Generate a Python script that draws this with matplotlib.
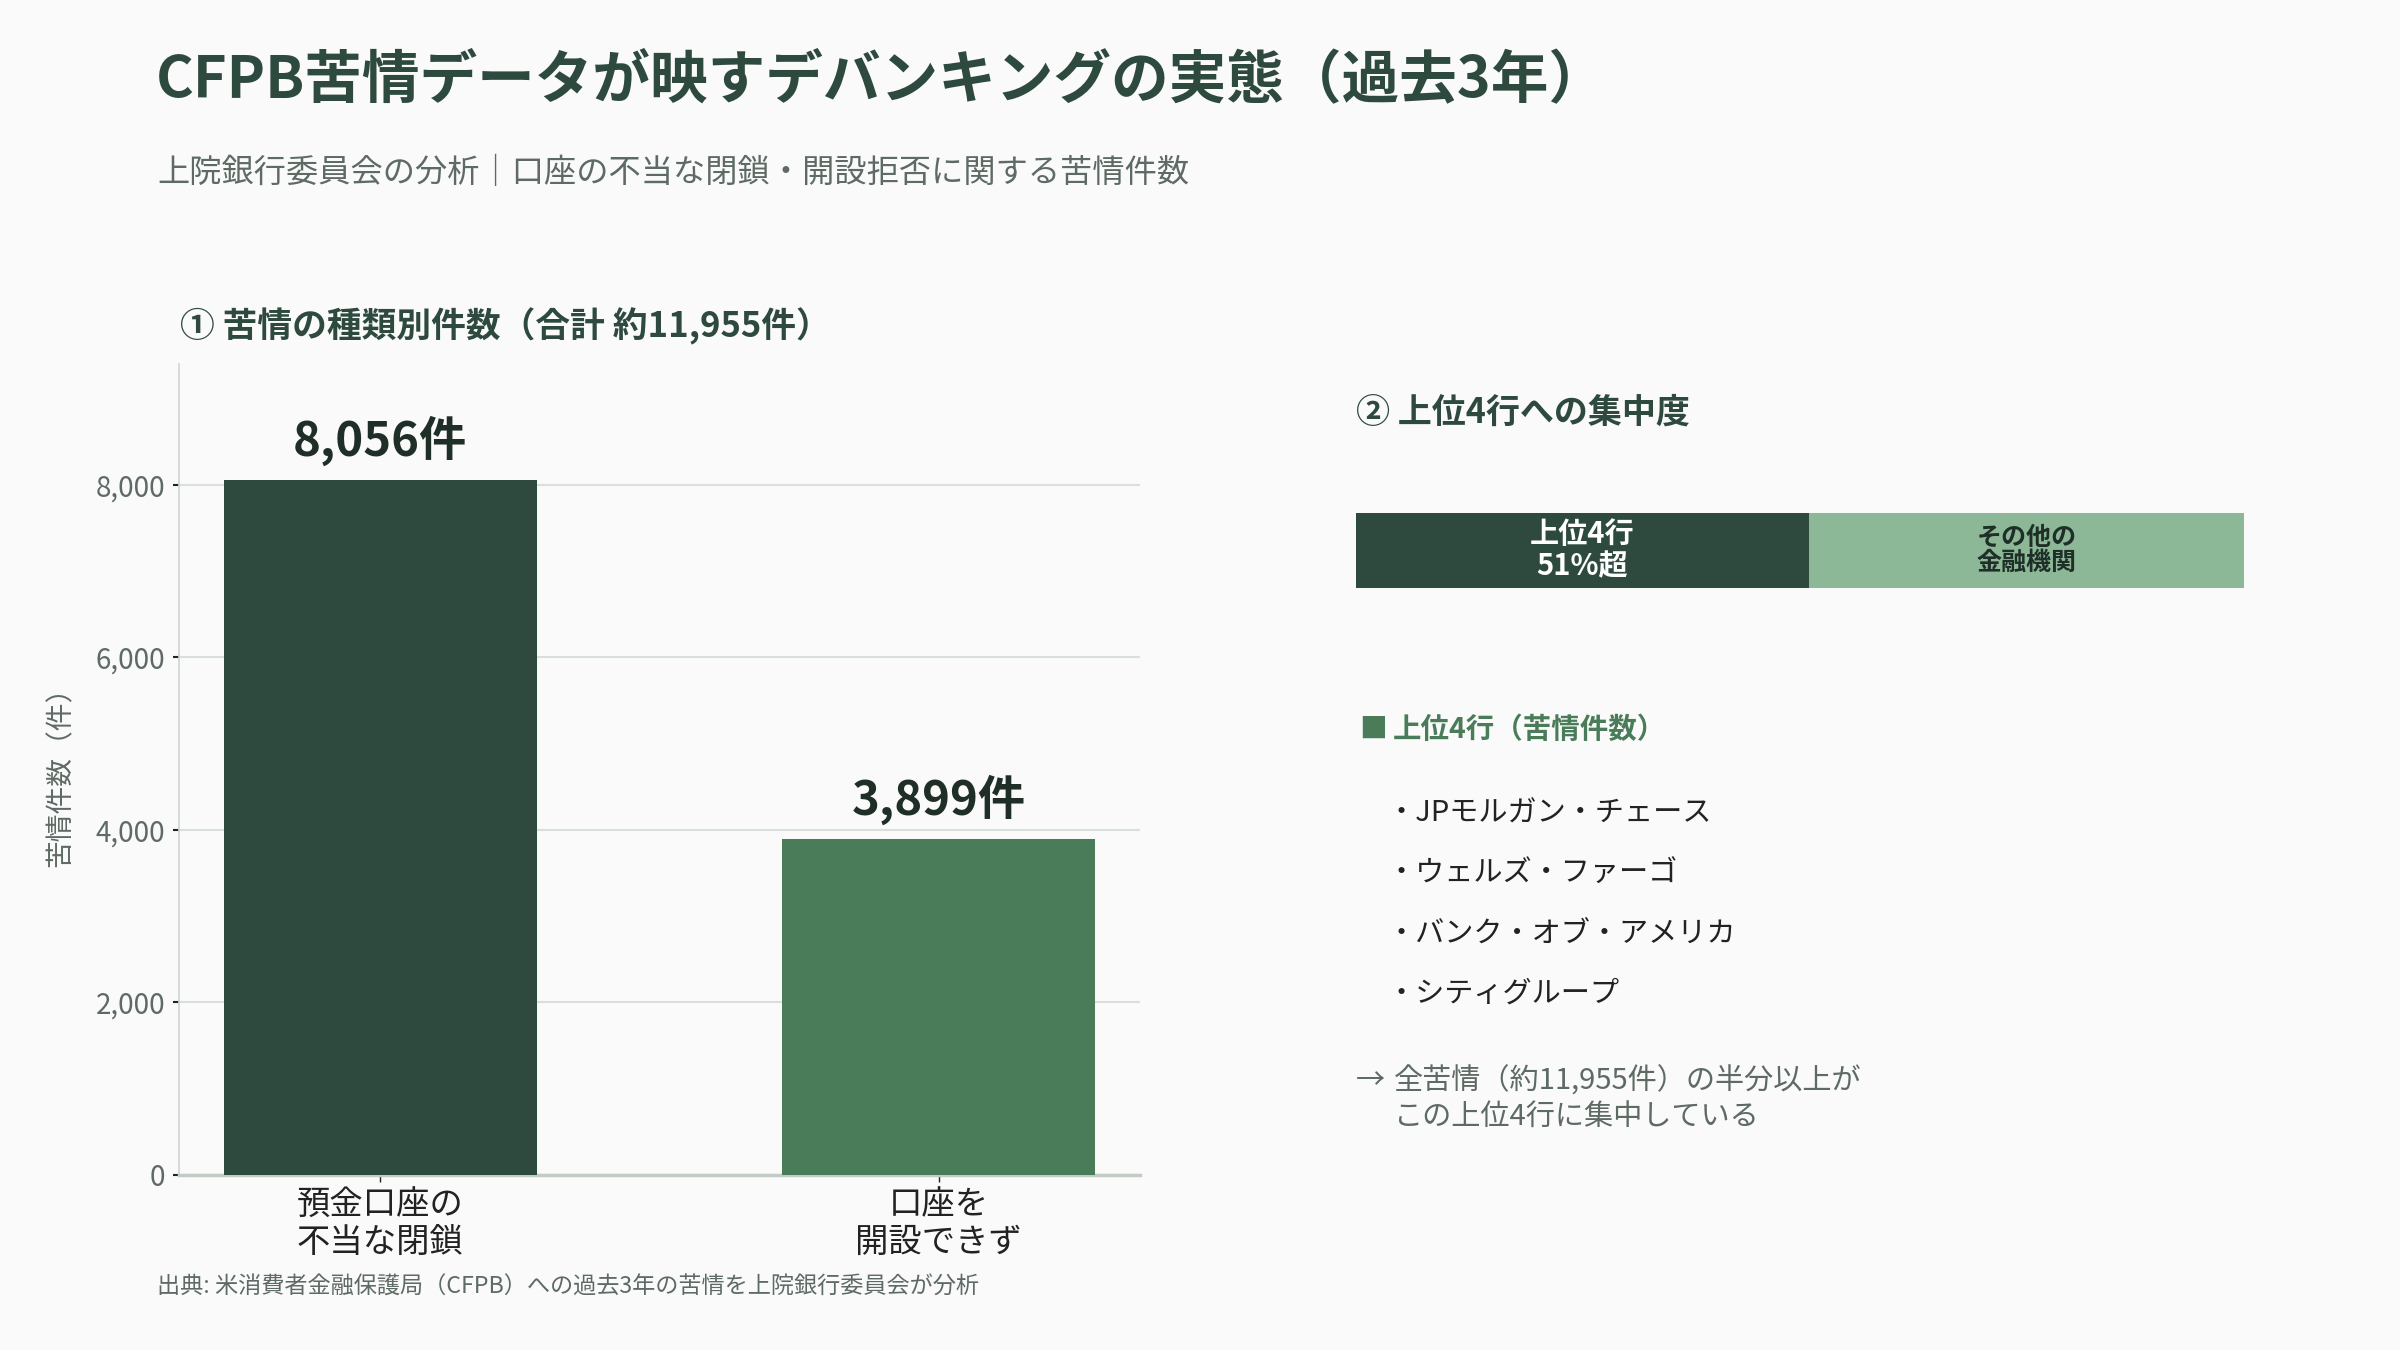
import matplotlib
matplotlib.use("Agg")
import matplotlib.pyplot as plt
from matplotlib.ticker import FuncFormatter

plt.rcParams['font.family'] = ['Noto Sans CJK JP', 'DejaVu Sans']

# ---- data ----
categories = ["預金口座の\n不当な閉鎖", "口座を\n開設できず"]
complaints = [8056, 3899]
value_labels = ["8,056件", "3,899件"]
yticks = [0, 2000, 4000, 6000, 8000]

share_labels = ["上位4行\n51%超", "その他の\n金融機関"]
share_values = [51, 49]

top_banks = ["・JPモルガン・チェース", "・ウェルズ・ファーゴ", "・バンク・オブ・アメリカ", "・シティグループ"]

# ---- styles ----
BG = "#fafafa"
DARK = "#2e4a3e"
MID = "#4a7c59"
LIGHT = "#8cb897"
GRAY = "#5e6b64"
TEXT = "#222222"

W, H = 2400, 1350
fig = plt.figure(figsize=(24, 13.5), dpi=100, facecolor=BG)

def fx(x):
    return x / W

def fy(y):
    return 1 - y / H

# titles
fig.text(fx(156), fy(80), "CFPB苦情データが映すデバンキングの実態（過去3年）",
         fontsize=41.5, fontweight='bold', color=DARK, va='center', ha='left')
fig.text(fx(157), fy(173), "上院銀行委員会の分析｜口座の不当な閉鎖・開設拒否に関する苦情件数",
         fontsize=23.2, color=GRAY, va='center', ha='left')
fig.text(fx(180), fy(326), "① 苦情の種類別件数（合計 約11,955件）",
         fontsize=25, fontweight='bold', color=DARK, va='center', ha='left')

# ---- bar chart ----
ax = fig.add_axes([fx(179), fy(1175), (1140 - 179) / W, (1175 - 364) / H])
ax.set_facecolor(BG)
x = list(range(len(categories)))
bars = ax.bar(x, complaints, width=0.56, color=[DARK, MID], zorder=3)
ax.set_xlim(-0.36, 1.36)
ax.set_ylim(0, 9400)
ax.set_yticks(yticks)
ax.yaxis.set_major_formatter(FuncFormatter(lambda v, p: f"{int(v):,}"))
ax.set_xticks(x)
ax.set_xticklabels(categories, fontsize=24, color=TEXT, linespacing=1.1)
ax.grid(axis='y', color="#d9dfda", linewidth=1.5, zorder=0)
ax.set_axisbelow(True)
for s in ['top', 'right']:
    ax.spines[s].set_visible(False)
ax.spines['left'].set_color("#cfd5d0")
ax.spines['left'].set_linewidth(1.2)
ax.spines['bottom'].set_color("#c3cbc5")
ax.spines['bottom'].set_linewidth(2.5)
ax.tick_params(axis='y', labelsize=20, labelcolor=GRAY, color=TEXT, length=4, width=1.5, pad=6)
ax.tick_params(axis='x', color=TEXT, length=5, width=1, pad=4)
ax.set_ylabel("苦情件数（件）", fontsize=20, color=GRAY, labelpad=14)

for xi, v, lab in zip(x, complaints, value_labels):
    ax.annotate(lab, (xi, v), xytext=(0, 10), textcoords='offset points',
                ha='center', va='bottom', fontsize=34, fontweight='bold', color="#1f2f27")

fig.text(fx(157), fy(1287), "出典: 米消費者金融保護局（CFPB）への過去3年の苦情を上院銀行委員会が分析",
         fontsize=16.7, color=GRAY, va='center', ha='left')

# ---- right panel ----
fig.text(fx(1356), fy(412), "② 上位4行への集中度",
         fontsize=24.5, fontweight='bold', color=DARK, va='center', ha='left')

ax2 = fig.add_axes([fx(1356), fy(588), (2244 - 1356) / W, (588 - 513) / H])
ax2.set_facecolor(BG)
left = 0
seg_colors = [DARK, LIGHT]
seg_text_colors = ["white", "#1f2f27"]
seg_sizes = [21, 18]
for val, lab, c, tc, fs in zip(share_values, share_labels, seg_colors, seg_text_colors, seg_sizes):
    ax2.barh(0, val, left=left, height=1.0, color=c)
    ax2.text(left + val / 2, 0, lab, ha='center', va='center', color=tc,
             fontsize=fs, fontweight='bold', linespacing=1.1)
    left += val
ax2.set_xlim(0, sum(share_values))
ax2.set_ylim(-0.5, 0.5)
ax2.axis('off')

fig.text(fx(1359), fy(730), "■", fontsize=20, color=MID, va='center', ha='left')
fig.text(fx(1393), fy(730), "上位4行（苦情件数）",
         fontsize=20.5, fontweight='bold', color=MID, va='center', ha='left')

for i, b in enumerate(top_banks):
    fig.text(fx(1387), fy(814 + i * 60), b, fontsize=21, color=TEXT, va='center', ha='left')

fig.text(fx(1356), fy(1081), "→", fontsize=21, color=GRAY, va='center', ha='left')
fig.text(fx(1394), fy(1099), "全苦情（約11,955件）の半分以上が\nこの上位4行に集中している",
         fontsize=21, color=GRAY, va='center', ha='left', linespacing=1.25)

fig.savefig("out.png", dpi=100, facecolor=BG)
